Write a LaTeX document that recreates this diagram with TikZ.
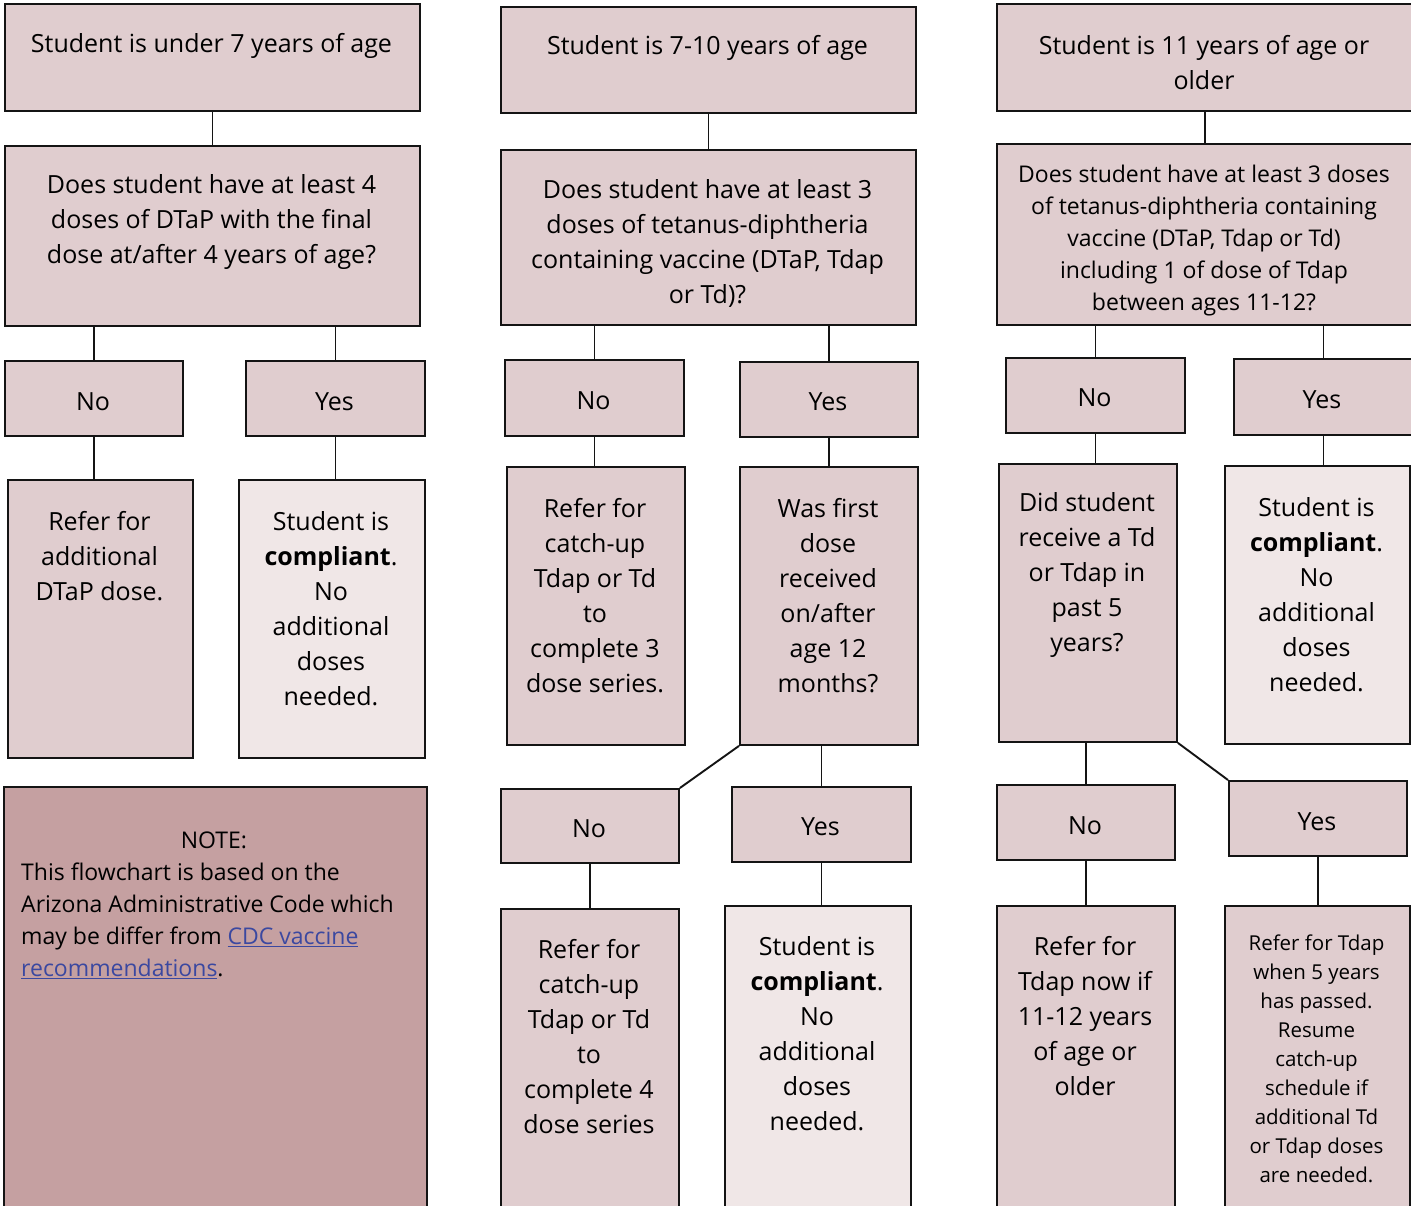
\documentclass[tikz,border=0pt]{standalone}
\usepackage{fontspec}
\setmainfont{Open Sans}
\definecolor{boxfill}{RGB}{224,205,207}
\definecolor{lightfill}{RGB}{240,231,231}
\definecolor{notefill}{RGB}{197,160,161}
\definecolor{edge}{RGB}{20,20,20}
\definecolor{linkblue}{RGB}{59,72,160}
\newcommand\mainsize{\fontsize{25}{35}\selectfont}
\newcommand\midsize{\fontsize{23}{32}\selectfont}
\newcommand\smallsize{\fontsize{20.5}{29}\selectfont}
\begin{document}
\begin{tikzpicture}[x=1pt,y=-1pt,
  box/.style={draw=edge, line width=1.9pt, fill=boxfill, inner sep=0pt, anchor=north west},
  compl/.style={box, fill=lightfill},
  notebox/.style={box, fill=notefill},
  txt/.style={align=center, inner sep=0pt, font=\mainsize, text=black, yshift=-2pt},
  link/.style={draw=edge, line width=1.9pt}]
\clip (0,0) rectangle (1411,1206);
\fill[white] (0,0) rectangle (1411,1206);

% ---- column 1: under 7 years ----
\node[box, minimum width=415pt, minimum height=107pt] (a1) at (4,3) {};
\node[box, minimum width=415pt, minimum height=180pt] (a2) at (4,145) {};
\node[box, minimum width=178pt, minimum height=75pt] (a3) at (4,360) {};
\node[box, minimum width=179pt, minimum height=75pt] (a4) at (245,360) {};
\node[box, minimum width=185pt, minimum height=278pt] (a5) at (7,479) {};
\node[compl, minimum width=186pt, minimum height=278pt] (a6) at (238,479) {};
\node[notebox, minimum width=423pt, minimum height=440pt] (note) at (3,786) {};

\node[txt] (ta1) at (211.5,44) {Student is under 7 years of age};
\node[txt] (ta2) at (211.5,220) {Does student have at least 4\\doses of DTaP with the final\\dose at/after 4 years of age?};
\node[txt] (ta3) at (93,400) {No};
\node[txt] (ta4) at (334.5,400) {Yes};
\node[txt] (ta5) at (99.5,554) {Refer for\\additional\\DTaP dose.};
\node[txt] (ta6) at (331,606.5) {Student is\\\textbf{compliant}.\\No\\additional\\doses\\needed.};
\node[txt, font=\midsize] (tnote1) at (214,838) {NOTE:};
\node[txt, font=\midsize, align=left, anchor=west] (tnote2) at (21,919)
  {This flowchart is based on the\\Arizona Administrative Code which\\may be differ from \textcolor{linkblue}{\underline{CDC vaccine}}\\\textcolor{linkblue}{\underline{recommendations}}.};

\draw[link] (a1.south) -- (a2.north);
\draw[link] (a3.north) -- (a3.north |- a2.south);
\draw[link] (a4.north) -- (a4.north |- a2.south);
\draw[link] (a3.south) -- (a3.south |- a5.north);
\draw[link] (a4.south) -- (a4.south |- a6.north);

% ---- column 2: 7-10 years ----
\node[box, minimum width=415pt, minimum height=106pt] (b1) at (500,6) {};
\node[box, minimum width=415pt, minimum height=175pt] (b2) at (500,149) {};
\node[box, minimum width=179pt, minimum height=76pt] (b3) at (504,359) {};
\node[box, minimum width=178pt, minimum height=75pt] (b4) at (739,361) {};
\node[box, minimum width=178pt, minimum height=278pt] (b5) at (506,466) {};
\node[box, minimum width=178pt, minimum height=278pt] (b6) at (739,466) {};
\node[box, minimum width=178pt, minimum height=74pt] (b7) at (500,788) {};
\node[box, minimum width=179pt, minimum height=75pt] (b8) at (731,786) {};
\node[box, minimum width=178pt, minimum height=320pt] (b9) at (500,908) {};
\node[compl, minimum width=186pt, minimum height=320pt] (b10) at (724,905) {};

\node[txt] (tb1) at (707.5,46) {Student is 7-10 years of age};
\node[txt] (tb2) at (707.5,241.5) {Does student have at least 3\\doses of tetanus-diphtheria\\containing vaccine (DTaP, Tdap\\or Td)?};
\node[txt] (tb3) at (593.5,399) {No};
\node[txt] (tb4) at (828,400) {Yes};
\node[txt] (tb5) at (595,593.5) {Refer for\\catch-up\\Tdap or Td\\to\\complete 3\\dose series.};
\node[txt] (tb6) at (828,593.5) {Was first\\dose\\received\\on/after\\age 12\\months?};
\node[txt] (tb7) at (589,827) {No};
\node[txt] (tb8) at (820.5,825) {Yes};
\node[txt] (tb9) at (589,1034.5) {Refer for\\catch-up\\Tdap or Td\\to\\complete 4\\dose series};
\node[txt] (tb10) at (817,1032) {Student is\\\textbf{compliant}.\\No\\additional\\doses\\needed.};

\draw[link] (b1.south) -- (b2.north);
\draw[link] (b3.north) -- (b3.north |- b2.south);
\draw[link] (b4.north) -- (b4.north |- b2.south);
\draw[link] (b3.south) -- (b3.south |- b5.north);
\draw[link] (b4.south) -- (b4.south |- b6.north);
\draw[link] (b6.south west) -- (b7.north east);
\draw[link] (b8.north) -- (b8.north |- b6.south);
\draw[link] (b7.south) -- (b7.south |- b9.north);
\draw[link] (b8.south) -- (b8.south |- b10.north);

% ---- column 3: 11 years or older ----
\node[box, minimum width=416pt, minimum height=107pt] (c1) at (996,3) {};
\node[box, minimum width=416pt, minimum height=181pt] (c2) at (996,143) {};
\node[box, minimum width=179pt, minimum height=75pt] (c3) at (1005,357) {};
\node[box, minimum width=179pt, minimum height=76pt] (c4) at (1233,358) {};
\node[box, minimum width=178pt, minimum height=278pt] (c5) at (998,463) {};
\node[compl, minimum width=185pt, minimum height=278pt] (c6) at (1224,465) {};
\node[box, minimum width=178pt, minimum height=75pt] (c7) at (996,784) {};
\node[box, minimum width=178pt, minimum height=75pt] (c8) at (1228,780) {};
\node[box, minimum width=178pt, minimum height=320pt] (c9) at (996,905) {};
\node[box, minimum width=185pt, minimum height=320pt] (c10) at (1224,905) {};

\node[txt] (tc1) at (1204,60.5) {Student is 11 years of age or\\older};
\node[txt, font=\midsize] (tc2) at (1204,239) {Does student have at least 3 doses\\of tetanus-diphtheria containing\\vaccine (DTaP, Tdap or Td)\\including 1 of dose of Tdap\\between ages 11-12?};
\node[txt] (tc3) at (1094.5,396) {No};
\node[txt] (tc4) at (1322,398) {Yes};
\node[txt] (tc5) at (1087,573) {Did student\\receive a Td\\or Tdap in\\past 5\\years?};
\node[txt] (tc6) at (1316.5,592.5) {Student is\\\textbf{compliant}.\\No\\additional\\doses\\needed.};
\node[txt] (tc7) at (1085,824) {No};
\node[txt] (tc8) at (1317,820) {Yes};
\node[txt] (tc9) at (1085,1014.5) {Refer for\\Tdap now if\\11-12 years\\of age or\\older};
\node[txt, font=\smallsize] (tc10) at (1316.5,1056.5) {Refer for Tdap\\when 5 years\\has passed.\\Resume\\catch-up\\schedule if\\additional Td\\or Tdap doses\\are needed.};

\draw[link] (c1.south) -- (c2.north);
\draw[link] (c3.north) -- (c3.north |- c2.south);
\draw[link] (c4.north) -- (c4.north |- c2.south);
\draw[link] (c3.south) -- (c3.south |- c5.north);
\draw[link] (c4.south) -- (c4.south |- c6.north);
\draw[link] (c7.north) -- (c7.north |- c5.south);
\draw[link] (c5.south east) -- (c8.north west);
\draw[link] (c7.south) -- (c7.south |- c9.north);
\draw[link] (c8.south) -- (c8.south |- c10.north);
\end{tikzpicture}
\end{document}
